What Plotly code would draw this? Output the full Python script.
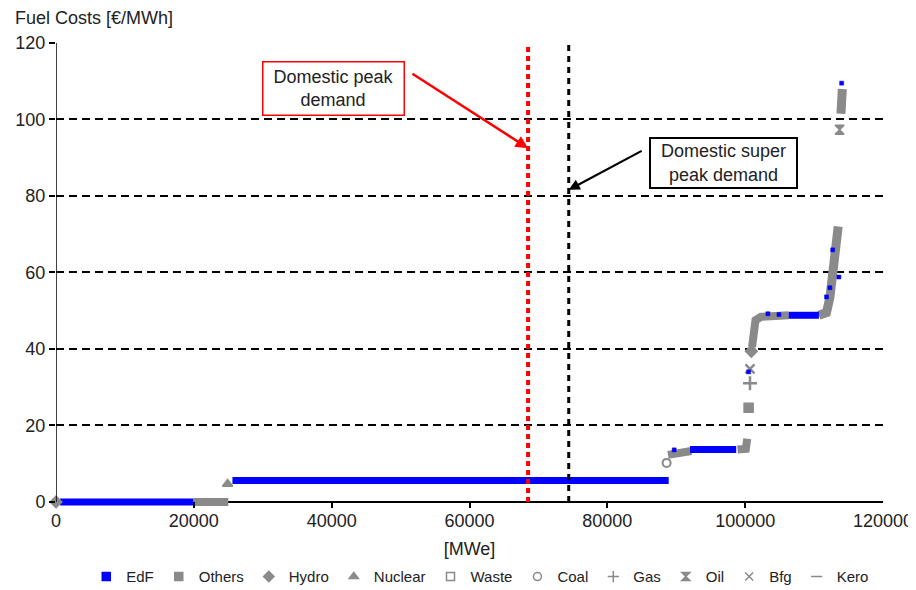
import plotly.graph_objects as go

# ---------------- data ----------------
# Dense runs of plants drawn as bands (None separates runs)
EDF_BAND_X = [600, 19900, None, 25600, 88900, None, 92000, 98700, None, 106300, 110700]
EDF_BAND_Y = [0, 0, None, 5.6, 5.6, None, 13.7, 13.7, None, 48.8, 48.8]
EDF_PTS_X = [89700, 100500, 103300, 104900, 111800, 112300, 112700, 113600, 114000]
EDF_PTS_Y = [13.6, 34.0, 49.2, 49.0, 53.6, 56.0, 65.9, 58.8, 109.5]

OTHERS_BAND_X = [19900, 25000]
OTHERS_BAND_Y = [0, 0]
OTHERS_PTS_X = [100500]
OTHERS_PTS_Y = [24.6]

HYDRO_PTS_X = [0, 100900]
HYDRO_PTS_Y = [0, 39.4]

NUCLEAR_PTS_X = [24900]
NUCLEAR_PTS_Y = [4.7]

COAL_PTS_X = [88600]
COAL_PTS_Y = [10.2]
COAL_BAND_X = [88800, 90500, 92200, None, 98900, 100100, 100300]
COAL_BAND_Y = [12.3, 12.8, 13.3, None, 13.7, 13.9, 16.5]

GAS_PTS_X = [100700]
GAS_PTS_Y = [31.0]
GAS_BAND_X = [101000, 101300, 101500, 102300, 106300]
GAS_BAND_Y = [40.5, 44.0, 47.5, 48.4, 48.8]

BFG_PTS_X = [100700]
BFG_PTS_Y = [34.8]

OIL_BAND_X = [110700, 111800, 112300, 112800, 113100, 113500, None, 113900, 114100]
OIL_BAND_Y = [48.8, 49.5, 53.5, 60.0, 66.0, 72.0, None, 101.5, 108.0]
OIL_PTS_X = [113700]
OIL_PTS_Y = [97.3]

PEAK_DEMAND = 68500
SUPER_PEAK_DEMAND = 74400

LEGEND_NAMES = ["EdF", "Others", "Hydro", "Nuclear", "Waste", "Coal", "Gas", "Oil", "Bfg", "Kero"]
LEGEND_SYMBOLS = ["square", "square", "diamond", "triangle-up", "square-open",
                  "circle-open", "cross-thin-open", "hourglass", "x-thin-open", "line-ew-open"]

X_TICKS = [0, 20000, 40000, 60000, 80000, 100000, 120000]
Y_TICKS = [0, 20, 40, 60, 80, 100, 120]

BLUE = "#0000ff"
GREY = "#8a8a8a"
FONT = "Liberation Sans, Arial, sans-serif"

# the page adds an 8px body margin, so the figure is 8px smaller and margins compensate
W, H = 908, 582

fig = go.Figure()


def band(x, y, color, width=8):
    fig.add_trace(go.Scatter(x=x, y=y, mode="lines", showlegend=False,
                             line=dict(color=color, width=width), hoverinfo="skip"))


def pts(x, y, color, symbol, size=8, lw=1.5):
    fig.add_trace(go.Scatter(x=x, y=y, mode="markers", showlegend=False, cliponaxis=False,
                             marker=dict(color=color, symbol=symbol, size=size,
                                         line=dict(color=color, width=lw))))


# grey series first, blue on top where mixed
band(OTHERS_BAND_X, OTHERS_BAND_Y, GREY)
band(COAL_BAND_X, COAL_BAND_Y, GREY)
band(GAS_BAND_X, GAS_BAND_Y, GREY)
band(OIL_BAND_X, OIL_BAND_Y, GREY, 9)
band(EDF_BAND_X, EDF_BAND_Y, BLUE, 7)

pts(OTHERS_PTS_X, OTHERS_PTS_Y, GREY, "square", 9)
pts(HYDRO_PTS_X, HYDRO_PTS_Y, GREY, "diamond", 9)
pts(NUCLEAR_PTS_X, NUCLEAR_PTS_Y, GREY, "triangle-up", 9)
pts(COAL_PTS_X, COAL_PTS_Y, GREY, "circle-open", 8, 2)
pts(GAS_PTS_X, GAS_PTS_Y, GREY, "cross-thin-open", 10, 2.5)
pts(BFG_PTS_X, BFG_PTS_Y, GREY, "x-thin-open", 9, 2.5)
pts(OIL_PTS_X, OIL_PTS_Y, GREY, "hourglass", 9)
pts(EDF_PTS_X, EDF_PTS_Y, BLUE, "square", 4, 0.5)

# legend entries
for name, sym in zip(LEGEND_NAMES, LEGEND_SYMBOLS):
    col = BLUE if name == "EdF" else GREY
    fig.add_trace(go.Scatter(x=[None], y=[None], mode="markers", name=name,
                             marker=dict(color=col, symbol=sym, size=8,
                                         line=dict(color=col, width=1.5))))

# demand lines
fig.add_shape(type="line", xref="x", yref="y", x0=PEAK_DEMAND, x1=PEAK_DEMAND, y0=0, y1=120,
              line=dict(color="#ff0000", width=4, dash="5px,4px"))
fig.add_shape(type="line", xref="x", yref="y", x0=SUPER_PEAK_DEMAND, x1=SUPER_PEAK_DEMAND, y0=0, y1=120,
              line=dict(color="#000000", width=3, dash="6px,5px"))
# y axis line
fig.add_shape(type="line", xref="x", yref="y", x0=0, x1=0, y0=0, y1=120,
              line=dict(color="#000000", width=1.5))

# annotations
fig.add_annotation(x=40300, y=108.1, xref="x", yref="y", text="Domestic peak<br>demand",
                   showarrow=False, font=dict(family=FONT, size=18, color="#222"),
                   bgcolor="white", bordercolor="#ff0000", borderwidth=1.5, borderpad=2,
                   width=136, height=48)
fig.add_annotation(x=PEAK_DEMAND, y=92.5, xref="x", yref="y", ax=51500, ay=112.2,
                   axref="x", ayref="y", text="", showarrow=True, arrowhead=2,
                   arrowsize=1, arrowwidth=2.5, arrowcolor="#ff0000")
fig.add_annotation(x=96800, y=88.6, xref="x", yref="y", text="Domestic super<br>peak demand",
                   showarrow=False, font=dict(family=FONT, size=18, color="#222"),
                   bgcolor="white", bordercolor="#000000", borderwidth=2, borderpad=1,
                   width=143, height=46)
fig.add_annotation(x=SUPER_PEAK_DEMAND, y=81.6, xref="x", yref="y", ax=85200, ay=92.0,
                   axref="x", ayref="y", text="", showarrow=True, arrowhead=2,
                   arrowsize=1, arrowwidth=2.2, arrowcolor="#000000")

fig.update_layout(
    width=W, height=H,
    margin=dict(l=48, r=33, t=35, b=82, autoexpand=False),
    paper_bgcolor="white", plot_bgcolor="white",
    font=dict(family=FONT, size=18, color="#222"),
    title=dict(text="Fuel Costs [€/MWh]", x=7 / W, xanchor="left",
               y=1 - 10 / H, yanchor="middle", font=dict(size=18, color="#222")),
    xaxis=dict(range=[0, 120000], tickvals=X_TICKS, ticktext=[str(v) for v in X_TICKS],
               ticks="inside", ticklen=6, tickwidth=1.5, tickcolor="black", automargin=False,
               showgrid=False, zeroline=False, showline=False,
               title=dict(text="[MWe]", standoff=12, font=dict(size=18))),
    yaxis=dict(range=[-1.6, 120], tickvals=Y_TICKS, ticks="outside", ticklen=6,
               tickwidth=1.5, tickcolor="black", showgrid=True, gridcolor="#000",
               griddash="8px,5px", gridwidth=1.6, zeroline=True, zerolinecolor="black",
               zerolinewidth=1.5, showline=False, automargin=False),
    legend=dict(orientation="h", x=0.513, xanchor="center", y=-0.148, yanchor="middle",
                font=dict(size=15), itemwidth=30, bgcolor="rgba(0,0,0,0)"),
    showlegend=True,
)

fig.write_html("out.html")
